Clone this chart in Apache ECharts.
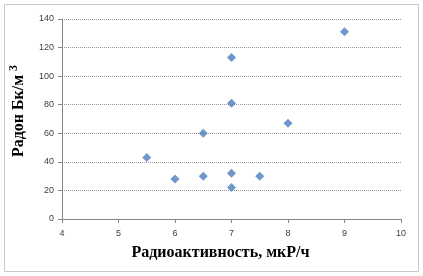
<!DOCTYPE html>
<html>
<head>
<meta charset="utf-8">
<script src="https://cdn.jsdelivr.net/npm/echarts@6/dist/echarts.min.js"></script>
<style>
  html, body { margin: 0; padding: 0; background: #fff; }
  #chart { width: 423px; height: 276px; }
</style>
</head>
<body>
<div id="chart"></div>
<script>
// радиоактивность, мкР/ч
var xValues = [5.5, 6, 6.5, 6.5, 7, 7, 7, 7, 7.5, 8, 9];
// радон, Бк/м3
var yValues = [43, 28, 30, 60, 113, 81, 32, 22, 30, 67, 131];

var points = xValues.map(function (x, i) {
  return [x, yValues[i]];
});

var myChart = echarts.init(document.getElementById("chart"), null, {
  renderer: "canvas",
});

var option = {
  animation: false,
  backgroundColor: "#fff",
  graphic: [
    {
      type: "rect",
      shape: { x: 4.5, y: 4.5, width: 414, height: 267 },
      style: { fill: "none", stroke: "#c8c8c8", lineWidth: 1 },
    },
  ],
  grid: { left: 59, right: 22, top: 19, bottom: 57 },
  xAxis: {
    type: "value",
    min: 4,
    max: 10,
    interval: 1,
    name: "Радиоактивность, мкР/ч",
    nameLocation: "middle",
    nameGap: 26,
    nameTextStyle: {
      fontFamily: "Liberation Serif",
      fontWeight: "bold",
      fontSize: 16,
      color: "#000",
      padding: [0, 22, 0, 0],
    },
    axisLine: { lineStyle: { color: "#868686" } },
    axisTick: { show: true, length: 4, lineStyle: { color: "#868686" } },
    axisLabel: { fontFamily: "Liberation Sans", fontSize: 9, color: "#404040", margin: 10 },
    splitLine: { show: false },
  },
  yAxis: {
    type: "value",
    min: 0,
    max: 140,
    interval: 20,
    name: "{a|Радон Бк/м }{s|3}",
    nameLocation: "middle",
    nameGap: 33,
    nameTextStyle: {
      padding: [0, 0, 0, 16],
      rich: {
        a: { fontFamily: "Liberation Serif", fontWeight: "bold", fontSize: 16, color: "#000" },
        s: { fontFamily: "Liberation Serif", fontWeight: "bold", fontSize: 12, color: "#000", verticalAlign: "top", padding: [0, 0, 9, 0] },
      },
    },
    axisLine: { show: true, lineStyle: { color: "#868686" } },
    axisTick: { show: true, length: 4, lineStyle: { color: "#868686" } },
    axisLabel: { fontFamily: "Liberation Sans", fontSize: 9, color: "#404040", margin: 8 },
    splitLine: { lineStyle: { color: "#9a9a9a", type: [1, 1], width: 1 } },
  },
  series: [
    {
      type: "scatter",
      symbol: "diamond",
      symbolSize: 9,
      itemStyle: { color: "#4a7ebb" },
      data: points,
    },
  ],
};

myChart.setOption(option);
</script>
</body>
</html>
